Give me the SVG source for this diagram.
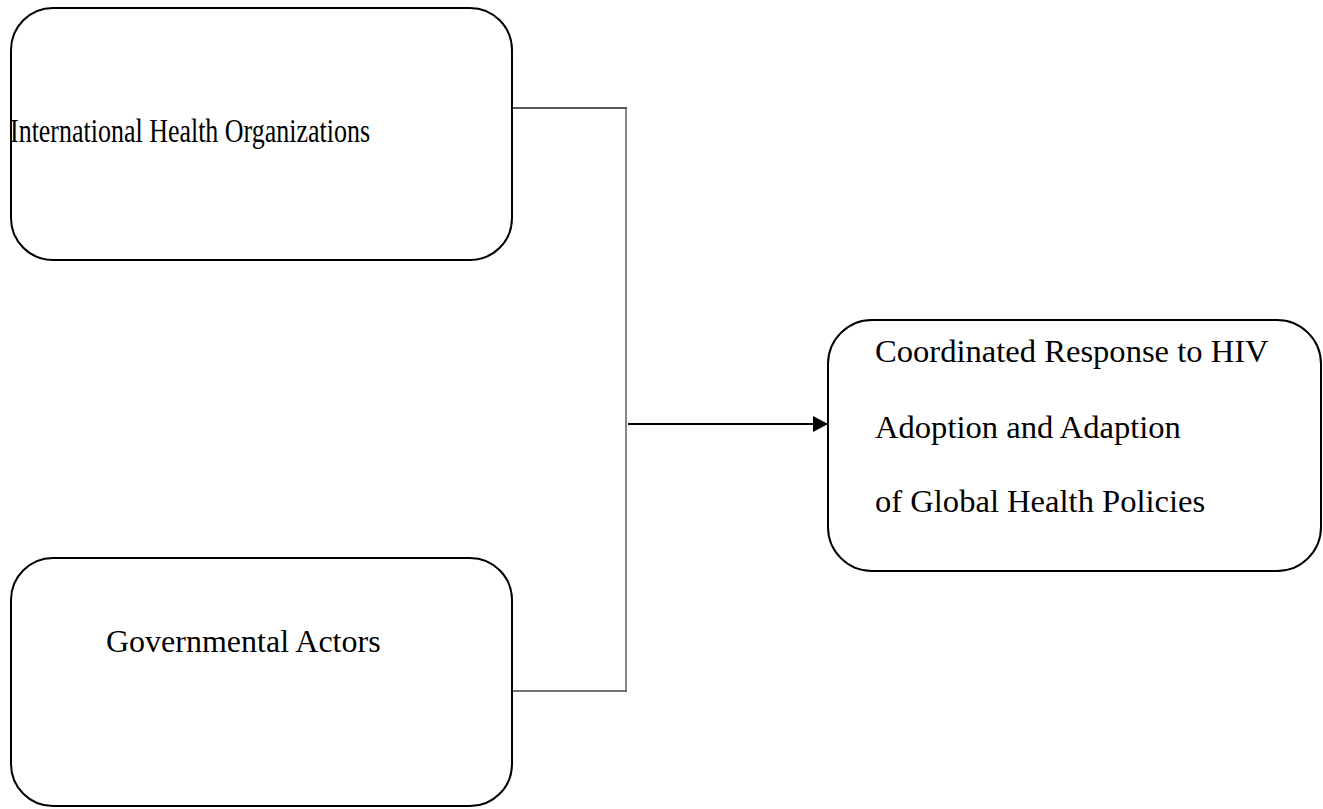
<svg xmlns="http://www.w3.org/2000/svg" width="1323" height="809" viewBox="0 0 1323 809">
<style>
.box{fill:#fff;stroke:#000;stroke-width:2}
.t{font-family:"Liberation Serif","Times New Roman",serif;font-size:32px;fill:#000}
.ln{fill:none;stroke-width:1.4}
</style>
<defs>
<marker id="ah" markerWidth="16" markerHeight="16" refX="15" refY="8" orient="auto" markerUnits="userSpaceOnUse">
<path d="M0,0 L15,8 L0,16 Z" fill="#000"/>
</marker>
</defs>
<rect width="1323" height="809" fill="#fff"/>
<g id="connectors">
<line class="ln" x1="512" y1="108" x2="627" y2="108" stroke="#222"/>
<line class="ln" x1="626" y1="109" x2="626" y2="691" stroke="#555"/>
<line class="ln" x1="512" y1="691" x2="627" y2="691" stroke="#444"/>
<line x1="628" y1="424" x2="828" y2="424" stroke="#000" stroke-width="2" marker-end="url(#ah)"/>
</g>
<g id="node-iho">
<rect class="box" x="11" y="8" width="501" height="252" rx="42" ry="42"/>
<text class="t" x="10" y="142" style="font-size:34px" textLength="360" lengthAdjust="spacingAndGlyphs">International Health Organizations</text>
</g>
<g id="node-gov">
<rect class="box" x="11" y="558" width="501" height="248" rx="42" ry="42"/>
<text class="t" x="106" y="652">Governmental Actors</text>
</g>
<g id="node-response">
<rect class="box" x="828" y="320" width="493" height="251" rx="44" ry="44"/>
<text class="t" x="875" y="362" style="font-size:32.6px">Coordinated Response to HIV</text>
<text class="t" x="875" y="438" style="font-size:32.6px">Adoption and Adaption</text>
<text class="t" x="875" y="512" style="font-size:32.6px">of Global Health Policies</text>
</g>
</svg>
